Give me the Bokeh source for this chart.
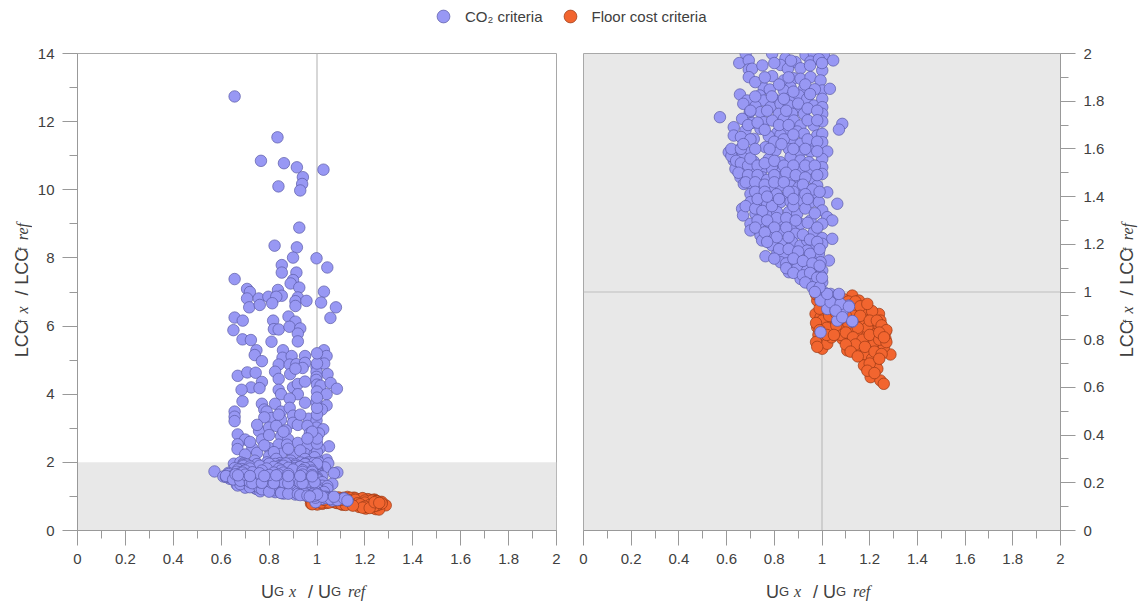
import numpy as np
from bokeh.plotting import figure
from bokeh.models import (Range1d, FixedTicker, Label, Span, BoxAnnotation, Legend,
                          LegendItem, ColumnDataSource)
from bokeh.layouts import column, row
from bokeh.embed import file_html
from bokeh.resources import INLINE

# ---------------- data ----------------
blue_x = [
    0.656, 0.835, 0.766, 0.862, 0.916, 1.027, 0.941, 0.938, 0.839, 0.930, 0.926, 0.823, 0.916, 0.900, 0.998,
    1.043, 0.853, 0.853, 0.656, 0.914, 0.900, 0.89, 0.926, 0.708, 0.72, 0.837, 0.853, 1.029, 0.708, 0.757,
    0.797, 0.83, 0.92, 0.91, 0.956, 1.017, 0.717, 0.761, 0.813, 0.91, 1.079, 0.656, 0.69, 0.817, 0.881,
    0.91, 1.056, 0.651, 0.82, 0.84, 0.885, 0.93, 0.92, 0.689, 0.724, 0.81, 0.92, 0.747, 0.858, 1.029,
    0.74, 0.77, 0.856, 0.894, 0.95, 1.013, 1.04, 0.84, 0.886, 0.914, 0.95, 0.998, 1.03, 0.94, 0.669,
    0.709, 0.744, 0.825, 0.888, 0.91, 1.044, 0.998, 0.998, 0.84, 0.997, 0.77, 0.725, 0.76, 0.685, 0.84,
    0.90, 0.92, 0.95, 1.0, 1.015, 1.057, 1.083, 1.0, 1.04, 0.92, 0.85, 0.689, 0.77, 0.825, 0.886,
    0.95, 0.998, 1.04, 1.02, 0.656, 0.656, 0.656, 0.78, 0.79, 0.85, 0.886, 0.9, 0.81, 0.78, 0.85,
    0.9, 0.965, 0.998, 0.998, 1.026, 0.669, 0.70, 0.758, 0.80, 0.83, 0.87, 0.92, 0.96, 0.97, 1.008,
    0.669, 0.668, 0.77, 0.85, 0.88, 0.92, 0.97, 1.05, 0.73, 0.80, 0.84, 0.875, 0.96, 1.01, 0.70,
    0.75, 0.80, 0.85, 0.90, 0.95, 0.99, 1.04, 0.653,
    1.0, 1.0, 1.0, 1.0, 1.0, 1.0, 1.0, 1.0, 1.0, 0.98, 0.99, 0.93, 0.88, 0.82, 0.78,
    0.72, 0.68, 0.74, 0.83, 0.89, 0.95, 0.86, 0.80, 0.75, 0.84, 0.93, 0.96,
    0.791, 0.847, 0.931, 0.966, 1.008, 1.047, 0.889, 0.826, 0.693, 0.857, 0.91, 0.952, 0.987, 1.001, 0.693,
    0.707, 0.693, 0.791, 0.84, 0.882, 0.91, 0.952, 0.994, 0.868, 0.84, 0.924, 1.001, 1.033, 0.756, 0.781,
    0.656, 0.686, 0.739, 0.756, 0.812, 0.868, 0.903, 0.938, 0.966, 1.001, 1.001, 0.67, 0.721, 0.784, 0.826,
    0.861, 0.903, 0.697, 0.742, 0.819, 0.875, 0.924, 1.001, 0.572, 0.665, 0.707, 0.756, 0.791, 0.84, 0.882,
    0.91, 0.966, 1.001, 1.085, 1.071, 0.63, 0.679, 0.742, 0.812, 0.851, 0.896, 0.924, 0.98, 1.001, 0.63,
    0.714, 0.777, 0.826, 0.875, 0.91, 0.966, 1.001, 1.022, 0.609, 0.644, 0.686, 0.763, 0.805, 0.861, 0.91,
    0.952, 0.63, 0.665, 0.714, 0.777, 0.826, 0.868, 0.91, 0.945, 1.001, 0.637, 0.679, 0.714, 0.749, 0.791,
    0.833, 0.875, 0.91, 0.952, 1.001, 1.001, 0.658, 0.7, 0.749, 0.826, 0.861, 0.91, 0.966, 0.672, 0.707,
    0.735, 0.784, 0.826, 0.868, 0.903, 0.938, 0.98, 1.022, 0.7, 0.749, 0.791, 0.854, 0.91, 0.966,
    0.665, 0.7, 0.735, 0.77, 0.826, 0.868, 0.91, 0.952, 0.987, 1.001, 1.064, 0.669, 0.721, 0.77, 0.812,
    0.861, 0.896, 0.952, 1.022, 1.043, 0.7, 0.742, 0.784, 0.826, 0.875, 0.91, 1.001, 0.7, 0.742, 0.791,
    0.833, 0.889, 0.966, 1.001, 1.043, 0.749, 0.791, 0.84, 0.875, 0.91, 0.938, 0.973, 1.001, 0.763, 0.812,
    0.84, 0.889, 0.938, 0.987, 1.029, 0.826, 0.868, 0.91, 0.952, 0.994, 0.861, 0.896, 0.938, 0.973, 1.001,
    0.91, 0.938, 0.966, 0.994, 0.952, 0.98, 1.001, 0.987, 1.008, 1.036, 1.064, 1.022, 1.043, 1.071, 1.112,
    1.022, 1.057, 1.085, 1.064, 1.127, 0.994,
    0.994, 1.036, 1.078, 1.057, 1.085, 1.113, 1.127, 1.022, 1.071,
    0.68, 0.72, 0.75, 0.79, 0.81, 0.85, 0.88, 0.93, 0.97, 0.73, 0.77, 0.80, 0.85, 0.89, 0.94,
    0.98, 0.72, 0.76, 0.81, 0.86, 0.92, 0.95, 0.98, 0.77, 0.82, 0.86, 0.90, 0.95, 0.99, 0.80,
    0.85, 0.88, 0.92, 0.96, 0.99, 0.85, 0.88, 0.92, 0.95, 0.98, 0.93, 0.96, 0.99, 1.0, 0.97,
    0.62, 0.64, 0.66, 0.69, 0.62, 0.66, 0.70, 0.73, 0.76, 0.80, 0.84, 0.88, 0.93, 0.97, 0.65,
    0.69, 0.73, 0.77, 0.80, 0.85, 0.89, 0.93, 0.98, 0.68, 0.72, 0.76, 0.80, 0.84, 0.88, 0.92,
    0.96, 0.72, 0.76, 0.81, 0.86, 0.93, 0.99, 0.73, 0.77, 0.82, 0.88, 0.94,
    0.75, 0.80, 0.87, 0.95, 1.0, 0.72, 0.76, 0.82, 0.86, 0.93, 0.97, 0.72, 0.79, 0.84, 0.88,
    0.95, 0.70, 0.77, 0.85, 0.90, 0.94, 0.98, 0.69, 0.73, 0.82, 0.86, 0.94, 0.98, 0.66, 0.70,
    0.76, 0.80, 0.84, 0.88, 0.94, 0.98, 0.67, 0.72, 0.78, 0.83, 0.88, 0.93, 0.98,
]
blue_y = [
    12.74, 11.54, 10.85, 10.78, 10.66, 10.59, 10.37, 10.17, 10.10, 9.98, 8.89, 8.36, 8.31, 8.01, 7.99,
    7.72, 7.79, 7.57, 7.38, 7.57, 7.35, 7.25, 7.13, 7.09, 7.0, 7.06, 6.89, 7.01, 6.81, 6.81,
    6.86, 6.86, 6.84, 6.73, 6.74, 6.69, 6.55, 6.62, 6.67, 6.59, 6.55, 6.25, 6.16, 6.16, 6.28,
    6.13, 6.24, 5.88, 5.91, 5.9, 5.98, 5.93, 5.78, 5.61, 5.59, 5.54, 5.55, 5.29, 5.29, 5.29,
    5.15, 4.97, 5.07, 5.12, 5.12, 5.05, 5.12, 4.87, 4.87, 4.88, 4.92, 4.80, 4.9, 4.77, 4.54,
    4.64, 4.63, 4.66, 4.59, 4.75, 4.59, 4.66, 4.51, 4.45, 4.42, 4.36, 4.20, 4.18, 4.13, 4.13,
    4.2, 4.3, 4.37, 4.28, 4.25, 4.33, 4.16, 4.08, 4.0, 4.0, 4.0, 3.79, 3.72, 3.72, 3.87,
    3.75, 3.77, 3.67, 3.55, 3.49, 3.34, 3.21, 3.55, 3.49, 3.49, 3.6, 3.37, 3.30, 3.32, 3.25,
    3.16, 3.28, 3.23, 3.02, 2.97, 2.82, 2.67, 2.92, 3.02, 3.07, 2.94, 3.10, 3.07, 2.85, 2.85,
    2.53, 2.39, 2.67, 2.77, 2.67, 2.57, 2.64, 2.47, 2.42, 2.42, 2.52, 2.52, 2.47, 2.40, 2.23,
    2.28, 2.18, 2.25, 2.23, 2.25, 2.23, 2.08, 1.96,
    2.1, 2.3, 2.55, 2.7, 3.4, 3.6, 3.9, 4.9, 5.2, 2.9, 2.15, 2.35, 2.4, 2.3, 2.5,
    2.6, 2.0, 2.05, 2.1, 2.05, 2.1, 2.9, 2.8, 3.1, 3.4, 3.4, 2.7,
    1.999, 1.98, 1.994, 1.999, 1.994, 1.971, 1.964, 1.952, 1.971, 1.936, 1.938, 1.966, 1.977, 1.929, 1.933,
    1.936, 1.901, 1.905, 1.887, 1.896, 1.894, 1.901, 1.887, 1.859, 1.845, 1.852, 1.845, 1.852, 1.855, 1.849,
    1.828, 1.803, 1.824, 1.803, 1.803, 1.817, 1.824, 1.81, 1.782, 1.81, 1.775, 1.789, 1.779, 1.775, 1.789,
    1.782, 1.775, 1.754, 1.754, 1.747, 1.747, 1.747, 1.747, 1.733, 1.726, 1.709, 1.712, 1.719, 1.726, 1.719,
    1.698, 1.698, 1.715, 1.705, 1.681, 1.691, 1.677, 1.684, 1.667, 1.677, 1.673, 1.663, 1.656, 1.663, 1.656,
    1.642, 1.653, 1.659, 1.635, 1.621, 1.614, 1.628, 1.589, 1.586, 1.593, 1.586, 1.607, 1.593, 1.6, 1.586,
    1.589, 1.551, 1.565, 1.547, 1.558, 1.544, 1.565, 1.551, 1.544, 1.558, 1.516, 1.523, 1.502, 1.516, 1.516,
    1.505, 1.513, 1.509, 1.502, 1.523, 1.495, 1.481, 1.474, 1.481, 1.481, 1.474, 1.467, 1.474, 1.453, 1.446,
    1.432, 1.432, 1.446, 1.446, 1.439, 1.432, 1.446, 1.418, 1.411, 1.404, 1.397, 1.404, 1.404, 1.397,
    1.349, 1.377, 1.384, 1.37, 1.377, 1.379, 1.384, 1.377, 1.377, 1.342, 1.37, 1.321, 1.328, 1.328, 1.335,
    1.335, 1.328, 1.3, 1.314, 1.3, 1.286, 1.293, 1.286, 1.279, 1.279, 1.286, 1.286, 1.258, 1.237, 1.251,
    1.258, 1.244, 1.251, 1.226, 1.223, 1.216, 1.195, 1.202, 1.209, 1.195, 1.216, 1.195, 1.202, 1.15, 1.16,
    1.146, 1.156, 1.174, 1.16, 1.132, 1.125, 1.118, 1.111, 1.139, 1.125, 1.083, 1.1, 1.09, 1.097, 1.09,
    1.055, 1.062, 1.048, 1.069, 1.034, 1.027, 1.041, 1.006, 0.999, 0.992, 0.985, 0.964, 0.957, 0.957, 0.943,
    0.929, 0.922, 0.915, 0.88, 0.876, 0.831,
    0.964, 0.957, 0.95, 0.922, 0.894, 0.939, 0.878, 0.992, 0.992,
    1.36, 1.35, 1.34, 1.36, 1.31, 1.31, 1.36, 1.35, 1.33, 1.30, 1.30, 1.27, 1.27, 1.30, 1.29,
    1.27, 1.27, 1.25, 1.23, 1.23, 1.24, 1.22, 1.21, 1.21, 1.18, 1.18, 1.17, 1.16, 1.18, 1.14,
    1.12, 1.14, 1.13, 1.12, 1.11, 1.10, 1.08, 1.07, 1.08, 1.06, 1.04, 1.02, 1.02, 1.06, 1.0,
    1.57, 1.55, 1.54, 1.53, 1.60, 1.60, 1.56, 1.53, 1.54, 1.55, 1.53, 1.53, 1.53, 1.53, 1.50,
    1.49, 1.49, 1.47, 1.49, 1.50, 1.49, 1.48, 1.49, 1.46, 1.46, 1.45, 1.46, 1.46, 1.42, 1.45,
    1.43, 1.42, 1.42, 1.41, 1.42, 1.41, 1.42, 1.39, 1.40, 1.39, 1.39, 1.39,
    1.95, 1.96, 1.97, 1.95, 1.96, 1.88, 1.90, 1.87, 1.90, 1.87, 1.85, 1.82, 1.82, 1.81, 1.84,
    1.83, 1.76, 1.76, 1.76, 1.79, 1.77, 1.76, 1.70, 1.71, 1.70, 1.70, 1.72, 1.72, 1.65, 1.64,
    1.68, 1.63, 1.64, 1.66, 1.64, 1.63, 1.62, 1.60, 1.60, 1.62, 1.60, 1.60, 1.59,
]
orange_x = [
    0.98, 0.973, 0.994, 0.98, 0.994, 1.001, 1.022, 1.029, 1.05, 1.071, 1.127, 1.155, 1.19, 1.218, 1.239,
    1.106, 1.148, 1.176, 1.204, 1.232, 1.259, 1.266, 1.099, 1.134, 1.162, 1.19, 1.225, 1.12, 1.162, 1.197,
    1.232, 1.287, 1.155, 1.183, 1.176, 1.225, 1.232, 1.204, 1.245, 1.259, 1.036, 1.008, 0.994, 1.064, 1.155,
    1.204, 1.085, 1.141, 1.106, 1.204, 1.245, 1.266, 1.05, 1.09, 1.13, 1.17, 1.21, 1.11, 1.19, 1.24,
    1.08, 1.15, 1.22, 1.26, 1.18, 1.21, 0.99, 1.0, 1.02, 0.985, 1.04, 1.06,
    0.975, 0.99, 1.01, 1.03, 1.06, 1.09, 1.11, 1.14, 1.16, 1.19, 1.13, 1.16, 1.20, 1.23, 1.25,
    1.27, 1.10, 1.13, 1.17, 1.20, 1.24, 1.27, 1.14, 1.18, 1.22, 1.25, 1.20, 1.24, 1.19, 1.22,
    0.975, 0.99, 0.975, 0.98, 1.02, 1.05, 1.10, 1.12, 1.15, 1.03, 1.06, 1.08, 1.10, 1.24, 1.26,
]
orange_y = [
    0.964, 0.908, 0.894, 0.852, 0.797, 0.762, 0.783, 0.866, 0.853, 0.832, 0.985, 0.964, 0.936, 0.908, 0.908,
    0.915, 0.908, 0.88, 0.866, 0.852, 0.838, 0.804, 0.853, 0.838, 0.825, 0.818, 0.825, 0.797, 0.79, 0.762,
    0.769, 0.738, 0.755, 0.713, 0.692, 0.699, 0.678, 0.643, 0.629, 0.615, 0.922, 0.936, 0.852, 0.88, 0.873,
    0.894, 0.804, 0.769, 0.755, 0.797, 0.88, 0.832, 0.95, 0.94, 0.93, 0.92, 0.92, 0.87, 0.85, 0.86,
    0.82, 0.85, 0.79, 0.77, 0.74, 0.72, 0.93, 0.88, 0.85, 0.82, 0.81, 0.86,
    0.99, 0.98, 0.97, 0.97, 0.98, 0.97, 0.96, 0.96, 0.94, 0.95, 0.90, 0.90, 0.88, 0.88, 0.86,
    0.84, 0.83, 0.81, 0.80, 0.82, 0.80, 0.79, 0.78, 0.77, 0.75, 0.74, 0.70, 0.72, 0.67, 0.66,
    0.87, 0.84, 0.79, 0.77, 0.82, 0.82, 0.78, 0.75, 0.73, 0.90, 0.91, 0.89, 0.90, 0.83, 0.81,
]

series_names = ["CO\u2082 criteria", "Floor cost criteria"]
x_ticks = [0, 0.2, 0.4, 0.6, 0.8, 1, 1.2, 1.4, 1.6, 1.8, 2]
x_tick_labels = ["0", "0.2", "0.4", "0.6", "0.8", "1", "1.2", "1.4", "1.6", "1.8", "2"]
y1_ticks = [0, 2, 4, 6, 8, 10, 12, 14]
y1_tick_labels = ["0", "2", "4", "6", "8", "10", "12", "14"]
y2_ticks = x_ticks
y2_tick_labels = x_tick_labels

# ---------------- styles ----------------
BLUE = "#9898f4"
BLUE_LINE = "#5a5aa6"
ORANGE = "#f2652f"
ORANGE_LINE = "#9a3a16"
GREY_BG = "#e8e8e8"
REF_LINE = "#bdbdbd"
AXIS_C = "#999999"
TXT = "#404040"
SANS = "Liberation Sans"
SERIF = "Liberation Serif"
MSIZE = 11.5

src_b = ColumnDataSource(dict(x=blue_x, y=blue_y))
src_o = ColumnDataSource(dict(x=orange_x, y=orange_y))

LEG_H = 38
ROW_TOP = LEG_H      # page y where the plot row starts
ROW_H = 534          # plot row: page y 38 .. 572
XS_H = 33            # x-label strip: page y 572 .. 605
BASE_SHIFT = 6       # renderer draws "alphabetic" baselines this far beyond the anchor


def style_axis(ax, ticks, labels, minor):
    ax.ticker = FixedTicker(ticks=ticks, minor_ticks=minor)
    ax.major_label_overrides = {t: l for t, l in zip(ticks, labels)}
    ax.axis_line_color = AXIS_C
    ax.major_tick_line_color = AXIS_C
    ax.minor_tick_line_color = AXIS_C
    ax.major_tick_in = 0
    ax.major_tick_out = 15
    ax.minor_tick_in = 0
    ax.minor_tick_out = 8
    ax.major_label_text_font = SANS
    ax.major_label_text_font_size = "15px"
    ax.major_label_text_color = TXT
    ax.major_label_standoff = 8


def make_plot(ymax, yticks, ylabels, yminor, side):
    left = side == "left"
    p = figure(frame_width=479 if left else 477, frame_height=477,
               x_range=Range1d(0, 2), y_range=Range1d(0, ymax),
               y_axis_location=side, output_backend="svg", toolbar_location=None,
               min_border_top=15, min_border_bottom=ROW_H - 15 - 477,
               min_border_left=45 if left else 14,
               min_border_right=13 if left else 50)
    p.grid.visible = False
    p.outline_line_color = "#a8a8a8"
    p.outline_line_width = 1
    style_axis(p.xaxis[0], x_ticks, x_tick_labels, [i / 10 for i in range(1, 20, 2)])
    style_axis(p.yaxis[0], yticks, ylabels, yminor)
    p.add_layout(Span(location=1, dimension="width", line_color=REF_LINE, line_width=1.2, level="underlay"))
    p.add_layout(Span(location=1, dimension="height", line_color=REF_LINE, line_width=1.2, level="underlay"))
    p.scatter("x", "y", source=src_o, size=MSIZE, fill_color=ORANGE, line_color=ORANGE_LINE, line_width=0.7)
    p.scatter("x", "y", source=src_b, size=MSIZE, fill_color=BLUE, line_color=BLUE_LINE, line_width=0.7)
    return p


p1 = make_plot(14, y1_ticks, y1_tick_labels, list(range(1, 14, 2)), "left")
p1.add_layout(BoxAnnotation(bottom=0, top=2, fill_color=GREY_BG, fill_alpha=1, line_alpha=0, level="underlay"))
p2 = make_plot(2, y2_ticks, y2_tick_labels, [i / 10 for i in range(1, 20, 2)], "right")
p2.background_fill_color = GREY_BG


def strip(w, h):
    f = figure(width=w, height=h, x_range=Range1d(0, w), y_range=Range1d(0, h),
               x_axis_location=None, y_axis_location=None, output_backend="svg",
               toolbar_location=None, min_border=0, outline_line_color=None)
    f.grid.visible = False
    return f


# pieces of "U_G x / U_G ref": text, page-x start relative to x=1, font, size, style
xlab_pieces = [("U", -56, SANS, "18px", "normal"), ("G", -43, SANS, "13px", "normal"),
               ("x", -28, SERIF, "16px", "italic"), ("/", -9, SANS, "18px", "normal"),
               ("U", 1, SANS, "18px", "normal"), ("G", 14, SANS, "13px", "normal"),
               ("ref", 31, SERIF, "16px", "italic")]
# pieces of "LCC_f x / LCC_f ref": text, page-y start (text runs upward), font, size, style, shift
ylab_pieces = [("LCC", 378, SANS, "18px", "normal", 0), ("f", 340, SANS, "13px", "normal", 1),
               ("x", 329, SERIF, "16px", "italic", 1), ("/", 309, SANS, "18px", "normal", 0),
               ("LCC", 297, SANS, "18px", "normal", 0), ("f", 259, SANS, "13px", "normal", 1),
               ("ref", 247, SERIF, "16px", "italic", 1)]

# x-label strip (page y 572 .. 605), baseline at page y 597
xs = strip(1140, XS_H)
for center in (316.5, 821.5):
    for t, off, f, s, st in xlab_pieces:
        xs.add_layout(Label(x=center + off, y=(ROW_TOP + ROW_H + XS_H) - (597 - BASE_SHIFT), text=t,
                            text_font=f, text_font_size=s, text_font_style=st, text_color=TXT,
                            text_align="left", text_baseline="alphabetic"))

# y-label strips, baselines at page x 27 (left) and 1132 (right)
yl1 = strip(32, ROW_H)
yl2 = strip(30, ROW_H)
for fig, base in ((yl1, 27 - BASE_SHIFT), (yl2, 1132 - BASE_SHIFT - 1110)):
    for t, py, f, s, st, sh in ylab_pieces:
        fig.add_layout(Label(x=base + sh, y=ROW_TOP + ROW_H - py, text=t, text_font=f,
                             text_font_size=s, text_font_style=st, text_color=TXT,
                             angle=np.pi / 2, text_align="left", text_baseline="alphabetic"))

# ---------------- legend strip ----------------
lg = figure(width=1140, height=LEG_H, x_range=Range1d(10, 11), y_range=Range1d(10, 11),
            x_axis_location=None, y_axis_location=None, output_backend="svg",
            toolbar_location=None, min_border=0, outline_line_color=None)
lg.grid.visible = False
r_b = lg.scatter("x", "y", source=src_b, size=MSIZE, fill_color=BLUE, line_color=BLUE_LINE, line_width=0.7)
r_o = lg.scatter("x", "y", source=src_o, size=MSIZE, fill_color=ORANGE, line_color=ORANGE_LINE, line_width=0.7)
legend = Legend(items=[LegendItem(label=series_names[0], renderers=[r_b]),
                       LegendItem(label=series_names[1], renderers=[r_o])],
                orientation="horizontal", location=(424, LEG_H - 32), glyph_width=38, glyph_height=32,
                label_standoff=3, spacing=8, padding=0, margin=0, border_line_color=None,
                background_fill_alpha=0, label_text_font=SANS, label_text_font_size="15px",
                label_text_color=TXT)
lg.add_layout(legend, "center")

layout = column(lg, row(yl1, p1, p2, yl2, spacing=0), xs, spacing=0)
open("out.html", "w").write(file_html(layout, INLINE))
